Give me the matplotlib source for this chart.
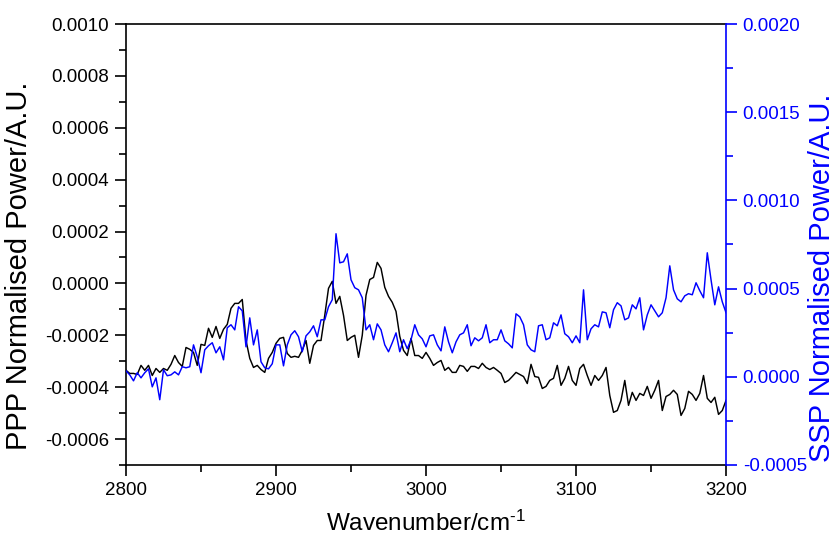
import numpy as np
import matplotlib
matplotlib.use("Agg")
import matplotlib.pyplot as plt
from matplotlib.ticker import MultipleLocator, FuncFormatter

plt.rcParams["font.family"] = ["Liberation Sans", "DejaVu Sans"]
plt.rcParams["mathtext.fontset"] = "custom"
plt.rcParams["mathtext.rm"] = "Liberation Sans"
plt.rcParams["mathtext.it"] = "Liberation Sans:italic"
plt.rcParams["mathtext.bf"] = "Liberation Sans:bold"

# Spectra sampled every 2.5 cm^-1 from 2800 to 3200 cm^-1; values in units of 1e-4
wavenumber = np.linspace(2800, 3200, 161)
SCALE = 1e-4

ppp = [
    -3.35, -3.47, -3.47, -3.51, -3.16, -3.35, -3.16, -3.55, -3.28, -3.43,
    -3.28, -3.35, -3.12, -2.78, -3.05, -3.20, -2.47, -2.54, -2.66, -3.16,
    -2.35, -2.39, -1.73, -2.08, -1.66, -2.12, -1.77, -1.58, -0.96, -0.77,
    -0.77, -0.62, -2.20, -2.89, -3.24, -3.16, -3.32, -3.43, -2.89, -2.66,
    -2.31, -2.12, -2.08, -2.70, -2.85, -2.81, -2.85, -2.58, -2.20, -3.08,
    -2.39, -2.20, -2.20, -1.23, -0.19, 0.08, -0.77, -0.50, -1.23, -2.20,
    -2.08, -2.00, -2.85, -2.00, -0.46, 0.15, 0.23, 0.81, 0.58, -0.15,
    -0.50, -0.73, -1.08, -2.04, -2.58, -2.78, -2.12, -2.78, -2.78, -2.89,
    -2.66, -2.89, -3.16, -3.05, -2.97, -3.35, -3.24, -3.43, -3.43, -3.16,
    -3.20, -3.39, -3.20, -3.20, -3.28, -3.08, -3.24, -3.32, -3.24, -3.35,
    -3.47, -3.82, -3.74, -3.59, -3.43, -3.51, -3.59, -3.86, -3.12, -3.59,
    -3.62, -4.05, -3.97, -3.74, -3.66, -3.16, -3.93, -3.66, -3.20, -3.74,
    -3.93, -3.28, -3.12, -3.55, -3.93, -3.55, -3.74, -3.55, -3.24, -4.32,
    -4.97, -4.90, -4.51, -3.74, -4.70, -4.20, -4.51, -4.24, -4.32, -3.97,
    -4.43, -4.12, -3.74, -4.90, -4.36, -4.28, -4.12, -4.28, -5.09, -4.82,
    -4.16, -4.28, -4.51, -4.24, -3.55, -4.43, -4.59, -4.39, -5.05, -4.90,
    -4.51,
]

ssp = [
    0.34, 0.11, -0.23, 0.23, -0.06, 0.23, 0.45, -0.57, -0.06, -1.30,
    0.40, 0.06, 0.11, 0.28, 0.11, 0.57, 0.51, 0.57, 1.81, 1.13,
    0.23, 1.53, 1.76, 1.93, 1.36, 1.70, 0.96, 2.78, 2.95, 2.66,
    3.97, 3.74, 1.70, 3.34, 1.81, 2.66, 0.85, 0.51, 0.45, 0.74,
    1.81, 1.81, 0.62, 1.81, 2.38, 2.61, 2.27, 1.42, 2.32, 2.55,
    2.89, 2.27, 3.23, 3.23, 3.97, 4.37, 8.11, 6.46, 6.52, 6.97,
    5.50, 5.05, 4.93, 4.48, 2.66, 2.95, 2.10, 3.00, 2.66, 1.81,
    1.42, 1.93, 2.49, 1.42, 2.10, 1.59, 2.10, 2.95, 2.38, 2.15,
    1.70, 2.32, 2.38, 1.81, 1.47, 2.83, 1.98, 1.36, 1.98, 2.38,
    2.49, 2.95, 1.76, 2.21, 2.04, 2.21, 2.95, 1.93, 2.10, 2.10,
    2.66, 2.04, 1.87, 1.64, 3.57, 3.40, 2.95, 1.81, 1.53, 1.42,
    2.89, 2.95, 2.10, 2.21, 3.06, 2.89, 3.51, 2.44, 2.27, 1.93,
    2.32, 1.93, 4.93, 2.10, 2.72, 2.95, 2.83, 3.68, 3.63, 2.78,
    3.80, 4.20, 4.02, 3.23, 3.34, 4.08, 3.85, 4.48, 2.66, 3.51,
    4.08, 3.74, 3.40, 3.63, 4.48, 6.29, 4.93, 4.42, 4.25, 4.59,
    4.71, 4.65, 5.33, 4.88, 4.48, 7.03, 5.50, 4.08, 5.10, 4.25,
    3.63,
]

x_ticks = [2800, 2900, 3000, 3100, 3200]
ppp_label = "PPP Normalised Power/A.U."
ssp_label = "SSP Normalised Power/A.U."
x_label = r"Wavenumber/cm$^{\text{-}1}$"

BLUE = "#0000ff"


def fmt4(v, _pos):
    if abs(v) < 1e-12:
        v = 0.0
    return f"{v:.4f}"


fig = plt.figure(figsize=(8.35, 5.37), dpi=100)
ax = fig.add_axes([0.1509, 0.1341, 0.7186, 0.8212])
ax2 = ax.twinx()

ax.plot(wavenumber, np.array(ppp) * SCALE, color="black", lw=1.05)
ax2.plot(wavenumber, np.array(ssp) * SCALE, color=BLUE, lw=1.05)

ax.set_xlim(2800, 3200)
ax.set_ylim(-0.0007, 0.0010)
ax2.set_ylim(-0.0005, 0.0020)

ax.set_xticks(x_ticks)
ax.xaxis.set_minor_locator(MultipleLocator(50))
ax.yaxis.set_major_locator(MultipleLocator(0.0002))
ax.yaxis.set_minor_locator(MultipleLocator(0.0001))
ax2.yaxis.set_major_locator(MultipleLocator(0.0005))
ax2.yaxis.set_minor_locator(MultipleLocator(0.00025))
ax.yaxis.set_major_formatter(FuncFormatter(fmt4))
ax2.yaxis.set_major_formatter(FuncFormatter(fmt4))

for a in (ax, ax2):
    for s in a.spines.values():
        s.set_linewidth(1.2)

ax.spines["right"].set_visible(False)
ax2.spines["left"].set_visible(False)
ax2.spines["top"].set_visible(False)
ax2.spines["bottom"].set_visible(False)
ax2.spines["right"].set_color(BLUE)

ax.tick_params(axis="both", which="major", direction="out", length=8, width=1.2,
               labelsize=13.5, colors="black", pad=4)
ax.tick_params(axis="both", which="minor", direction="out", length=5, width=1.2)
ax.tick_params(axis="x", top=False, which="both")
ax.tick_params(axis="y", right=False, which="both")
ax2.tick_params(axis="y", which="major", direction="out", length=8, width=1.2,
                labelsize=13.5, colors=BLUE, pad=4)
ax2.tick_params(axis="y", which="minor", direction="out", length=5, width=1.2,
                colors=BLUE)

ax.set_xlabel(x_label, fontsize=17.5, labelpad=9)
ax.set_ylabel(ppp_label, fontsize=21)
ax2.set_ylabel(ssp_label, fontsize=21, color=BLUE)
ax.yaxis.set_label_coords(-0.155, 0.451)
ax2.yaxis.set_label_coords(1.137, 0.424)

fig.savefig("out.png", dpi=100)
